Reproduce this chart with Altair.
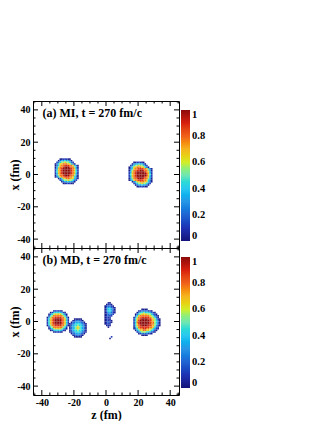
import altair as alt
import pandas as pd

# ---------------- data ----------------
Z_DOMAIN = [-45.5, 45.5]
X_DOMAIN = [-45.5, 45.5]
MAJOR_TICKS = [-40, -20, 0, 20, 40]
MINOR_TICKS = [-45, -35, -30, -25, -15, -10, -5, 5, 10, 15, 25, 30, 35, 45]
CBAR_TICKS = [0, 0.2, 0.4, 0.6, 0.8, 1]
PANEL_TITLES = ["(a) MI, t = 270 fm/c", "(b) MD, t = 270 fm/c"]

# density code per cell ('.' = empty cell)
LEVELS = {"0": 0.03, "1": 0.11, "2": 0.22, "3": 0.33, "4": 0.44,
          "5": 0.56, "6": 0.67, "7": 0.78, "8": 0.89, "9": 1.0}

# each blob: left z edge, top x edge, rows of 1 fm x 1 fm cells (top row first)
MI_LEFT_Z0, MI_LEFT_TOP = -33, 10
MI_LEFT_ROWS = [
    "....0011100......",
    "...023343320.....",
    "..12455655421....",
    ".0246677766420...",
    ".024677888776420.",
    ".035778999877530.",
    ".136789999987631.",
    ".146789999987641.",
    ".146789999987641.",
    ".136789999987631.",
    ".035778999877530.",
    ".024677888776420.",
    "...0246677766420.",
    "....12455655421..",
    ".....023343320...",
    "......0011100....",
]

MI_RIGHT_Z0, MI_RIGHT_TOP = 13, 8
MI_RIGHT_ROWS = [
    "....0011100......",
    "...023343320.....",
    "..12455655421....",
    ".0246677766420...",
    ".024677888776420.",
    ".035778899877530.",
    ".136789999987631.",
    ".146789999998641.",
    ".146789999998641.",
    ".136789999987631.",
    ".035778999877530.",
    ".024677888776420.",
    "...0246677766420.",
    "....12455655421..",
    ".....023343320...",
    "......0011100....",
]

MD_LEFT_Z0, MD_LEFT_TOP = -37, 7
MD_LEFT_ROWS = [
    "....011110....",
    "..0134444310..",
    ".024566665420.",
    ".145777777541.",
    "03577888877530",
    "14678999987641",
    "14678999987641",
    "14678999987641",
    "14678999987641",
    "03577888877530",
    ".145777777541.",
    ".024566665420.",
    "..0134444310..",
    "....011110....",
]

MD_SECOND_Z0, MD_SECOND_TOP = -23, 2
MD_SECOND_ROWS = [
    "...00000...",
    "..0122210..",
    ".022333220.",
    "01234443210",
    "02344544320",
    "02345654320",
    "02345654320",
    "02344544320",
    "01234443210",
    ".022333220.",
    "..0122210..",
    "...00000...",
]

MD_MID_Z0, MD_MID_TOP = -1, 12
MD_MID_ROWS = [
    "..00...",
    ".0110..",
    "012210.",
    "0233210",
    "0244320",
    "0244310",
    "0133210",
    "012221.",
    "01211..",
    "0111...",
    "0110...",
    "01110..",
    "01210..",
    "0111...",
    ".010...",
    "..0....",
]

MD_DOT_Z0, MD_DOT_TOP = 2, -9
MD_DOT_ROWS = [
    ".1",
    "0.",
]

MD_RIGHT_Z0, MD_RIGHT_TOP = 17, 8
MD_RIGHT_ROWS = [
    ".....0000........",
    "...012222110.....",
    "..024454443210...",
    ".02456666554210..",
    ".146777777654210.",
    "0357788888765420.",
    "14678999988765310",
    "14689999998765420",
    "14789999998775420",
    "14689999998775420",
    "14678999988765310",
    "0357888888776421.",
    "0246778877664310.",
    ".03466776654310..",
    "..124555443210...",
    "...012222110.....",
    ".....0000........",
]

PANEL_BLOBS = [
    [(MI_LEFT_Z0, MI_LEFT_TOP, MI_LEFT_ROWS),
     (MI_RIGHT_Z0, MI_RIGHT_TOP, MI_RIGHT_ROWS)],
    [(MD_LEFT_Z0, MD_LEFT_TOP, MD_LEFT_ROWS),
     (MD_SECOND_Z0, MD_SECOND_TOP, MD_SECOND_ROWS),
     (MD_MID_Z0, MD_MID_TOP, MD_MID_ROWS),
     (MD_DOT_Z0, MD_DOT_TOP, MD_DOT_ROWS),
     (MD_RIGHT_Z0, MD_RIGHT_TOP, MD_RIGHT_ROWS)],
]

PALETTE = ["#14147a", "#1e32b4", "#2064d2", "#2896e6", "#2ac8f0", "#6ee6b4",
           "#d2ee28", "#f5b41e", "#f0601a", "#d8200e", "#8c0a0a"]

# ---------------- chart ----------------
FONT = "Liberation Serif"
W, H = 146, 147
MAJOR_LEN, MINOR_LEN = 5, 2.5


def cells(blobs):
    recs = []
    for z0, top, rows in blobs:
        for j, row in enumerate(rows):
            for c, ch in enumerate(row):
                if ch == ".":
                    continue
                recs.append({"z": z0 + c, "z2": z0 + c + 1,
                             "x": top - j - 1, "x2": top - j,
                             "v": LEVELS[ch]})
    return pd.DataFrame(recs)


def zs():
    return alt.Scale(domain=Z_DOMAIN, nice=False, zero=False)


def xs():
    return alt.Scale(domain=X_DOMAIN, nice=False, zero=False)


def make_axis(title, pad, tpad):
    return alt.Axis(values=MAJOR_TICKS, ticks=False, domain=False, grid=False,
                    labelExpr="'' + datum.value", labelFont=FONT,
                    labelFontSize=10, labelFontWeight="bold", labelColor="black",
                    labelPadding=pad, title=title, titleFont=FONT,
                    titleFontSize=12, titleFontWeight="bold", titleColor="black",
                    titlePadding=tpad)


def tick_layers(vals, length, x_axis, y_axis):
    d = pd.DataFrame({"t": vals})
    base = alt.Chart(d).mark_rule(color="black", strokeWidth=1)
    xt = alt.X("t:Q", scale=zs(), axis=x_axis)
    yt = alt.Y("t:Q", scale=xs(), axis=y_axis)
    return [
        base.encode(x=xt, y=alt.value(H), y2=alt.value(H - length)),
        base.encode(x=xt, y=alt.value(0), y2=alt.value(length)),
        base.encode(y=yt, x=alt.value(0), x2=alt.value(length)),
        base.encode(y=yt, x=alt.value(W), x2=alt.value(W - length)),
    ]


def panel(idx, show_x):
    df = cells(PANEL_BLOBS[idx])
    cscale = alt.Scale(domain=[0, 1], range=PALETTE, clamp=True)
    x_axis = make_axis("z (fm)", 2, 2) if show_x else None
    y_axis = make_axis("x (fm)", 3, -5)
    legend = alt.Legend(type="gradient", orient="none", legendX=W + 2, legendY=9,
                        direction="vertical",
                        gradientLength=131, gradientThickness=9, title=None,
                        values=CBAR_TICKS, labelExpr="'' + datum.value",
                        labelFont=FONT, labelFontSize=10.5, labelFontWeight="bold",
                        labelColor="black", labelOffset=2, labelBaseline="middle",
                        gradientStrokeWidth=0, padding=0)
    heat = alt.Chart(df).mark_rect().encode(
        x=alt.X("z:Q", scale=zs(), axis=x_axis),
        x2="z2:Q",
        y=alt.Y("x:Q", scale=xs(), axis=y_axis),
        y2="x2:Q",
        color=alt.Color("v:Q", scale=cscale, legend=legend),
    )
    label = alt.Chart(pd.DataFrame({"t": [PANEL_TITLES[idx]]})).mark_text(
        align="left", baseline="alphabetic", font=FONT, fontWeight="bold",
        fontSize=12, color="black"
    ).encode(x=alt.value(9.5), y=alt.value(15.5), text="t:N")
    layers = ([heat] + tick_layers(MAJOR_TICKS, MAJOR_LEN, x_axis, y_axis)
              + tick_layers(MINOR_TICKS, MINOR_LEN, x_axis, y_axis) + [label])
    return alt.layer(*layers).properties(width=W, height=H)


chart = alt.vconcat(panel(0, False), panel(1, True), spacing=0, bounds="flush").resolve_scale(
    color="independent"
).resolve_legend(color="independent").properties(
    padding={"left": 0, "top": 92, "right": 0, "bottom": 0},
    background="white",
).configure_view(stroke="black", strokeWidth=1)

chart.save("out.html", embed_options={"renderer": "svg", "actions": False})
